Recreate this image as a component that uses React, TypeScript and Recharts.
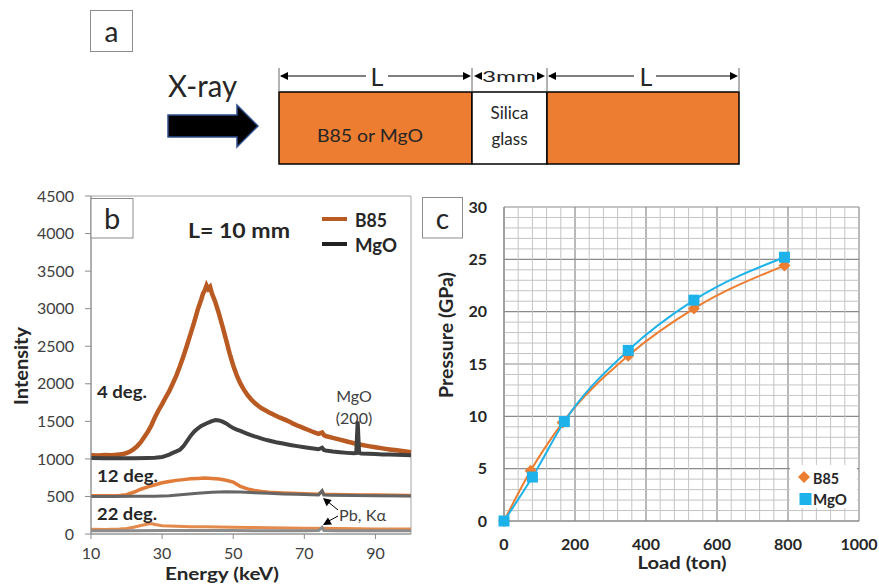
import React from "react";
import { LineChart, ComposedChart, Line, XAxis, YAxis, ReferenceArea, ReferenceLine, CartesianGrid } from "recharts";

const FONT = "Lato, 'Open Sans', sans-serif";
const INK = "#262626";
const TICK = "#404040";

// panel b: energy (keV) vs intensity
const b85Deg4 = [
  [10, 1050], [12, 1046], [14, 1052], [16, 1048], [18, 1058], [19, 1064], [20, 1078], [21, 1098], [22, 1128], [23, 1170],
  [24, 1222], [25, 1290], [26, 1362], [27, 1448], [28, 1556], [29, 1648], [30, 1730], [31, 1818], [32, 1902], [33, 2004],
  [34, 2108], [35, 2232], [36, 2368], [37, 2512], [38, 2664], [39, 2818], [40, 2984], [41, 3122], [41.5, 3200], [42, 3244],
  [42.5, 3310], [43, 3262], [43.5, 3290], [44, 3205], [45, 3082], [46, 2932], [47, 2762], [48, 2584], [49, 2402], [50, 2244],
  [51, 2112], [52, 2004], [53, 1922], [54, 1852], [55, 1794], [56, 1746], [57, 1708], [58, 1674], [59, 1648], [60, 1622],
  [61, 1598], [62, 1574], [63, 1552], [64, 1532], [65, 1512], [66, 1490], [67, 1466], [68, 1444], [69, 1426], [70, 1406],
  [71, 1388], [72, 1368], [73, 1350], [74, 1334], [75, 1352], [75.5, 1318], [76, 1304], [78, 1280], [80, 1256], [82, 1232],
  [84, 1208], [86, 1188], [88, 1170], [90, 1154], [92, 1140], [94, 1126], [96, 1114], [98, 1102], [100, 1090],
];
const mgoDeg4 = [
  [10, 1012], [14, 1008], [18, 1010], [22, 1008], [26, 1012], [28, 1016], [30, 1026], [31, 1040], [32, 1058], [33, 1080],
  [34, 1100], [35, 1122], [36, 1168], [37, 1236], [38, 1306], [39, 1362], [40, 1404], [41, 1438], [42, 1462], [43, 1484],
  [44, 1502], [45, 1518], [46, 1512], [47, 1496], [48, 1472], [49, 1440], [50, 1410], [51, 1390], [52, 1372], [53, 1352],
  [54, 1334], [55, 1316], [56, 1300], [57, 1286], [58, 1270], [59, 1256], [60, 1244], [62, 1222], [64, 1204], [66, 1186],
  [68, 1170], [70, 1156], [72, 1142], [74, 1128], [75, 1148], [75.5, 1118], [76, 1112], [78, 1098], [80, 1088], [82, 1080],
  [84, 1074], [84.6, 1078], [85, 1500], [85.4, 1082], [86, 1072], [88, 1068], [90, 1064], [92, 1060], [94, 1058], [96, 1055],
  [98, 1052], [100, 1050],
];
const b85Deg12 = [
  [10, 510], [14, 508], [18, 514], [20, 524], [22, 556], [24, 596], [26, 628], [28, 656], [30, 682], [32, 700],
  [34, 714], [36, 724], [38, 734], [40, 740], [42, 746], [44, 740], [46, 732], [48, 716], [50, 692], [51, 662],
  [52, 632], [54, 600], [56, 580], [58, 566], [60, 556], [64, 546], [68, 538], [72, 532], [74, 530], [75, 566],
  [75.5, 530], [78, 526], [82, 522], [86, 520], [90, 518], [95, 516], [100, 514],
];
const mgoDeg12 = [
  [10, 498], [16, 500], [22, 502], [28, 504], [32, 510], [36, 526], [40, 544], [44, 556], [48, 562], [52, 558],
  [56, 550], [60, 542], [64, 534], [68, 528], [72, 522], [74, 520], [75, 578], [75.5, 520], [78, 516], [84, 512],
  [90, 510], [100, 506],
];
const b85Deg22 = [
  [10, 62], [14, 60], [18, 66], [20, 72], [22, 90], [24, 114], [26, 132], [27, 138], [28, 126], [30, 110],
  [34, 102], [38, 98], [42, 96], [46, 94], [50, 90], [55, 86], [60, 82], [70, 76], [80, 72], [90, 68], [100, 66],
];
const mgoDeg22 = [
  [10, 42], [20, 44], [30, 46], [40, 48], [50, 46], [60, 44], [70, 44], [74, 46], [75, 88], [75.5, 46],
  [80, 44], [90, 42], [100, 42],
];
const energyTicks = [10, 30, 50, 70, 90];
const intensityTicks = [0, 500, 1000, 1500, 2000, 2500, 3000, 3500, 4000, 4500];

// panel c: load (ton) vs pressure (GPa)
const b85Load = [0, 75, 165, 350, 535, 790];
const b85Pressure = [0, 4.8, 9.4, 15.8, 20.3, 24.4];
const mgoLoad = [0, 80, 170, 350, 535, 790];
const mgoPressure = [0, 4.2, 9.5, 16.3, 21.1, 25.2];
const loadTicks = [0, 200, 400, 600, 800, 1000];
const pressureTicks = [0, 5, 10, 15, 20, 25, 30];
const loadMinor = [40, 80, 120, 160, 240, 280, 320, 360, 440, 480, 520, 560, 640, 680, 720, 760, 840, 880, 920, 960];
const pressureMinor = [1, 2, 3, 4, 6, 7, 8, 9, 11, 12, 13, 14, 16, 17, 18, 19, 21, 22, 23, 24, 26, 27, 28, 29];

const spec = (arr: number[][]) => arr.map(([e, v]) => ({ e, v }));
const pairs = (xs: number[], ys: number[]) => xs.map((x, i) => ({ x, y: ys[i] }));

const ORANGE = "#ed7d31";
const BLUE = "#1eb2ea";

const Diamond = (p: any) => {
  const { cx, cy, index } = p;
  const r = 6;
  return <path key={"d" + index} d={`M${cx},${cy - r}L${cx + r},${cy}L${cx},${cy + r}L${cx - r},${cy}Z`} fill={ORANGE} />;
};
const Square = (p: any) => {
  const { cx, cy, index } = p;
  return <rect key={"s" + index} x={cx - 5.5} y={cy - 5.5} width={11} height={11} fill={BLUE} />;
};

function Arrowhead({ x, y, angle }: { x: number; y: number; angle: number }) {
  return <polygon points="0,0 -8,-4 -8,4" fill="#000" transform={`translate(${x},${y}) rotate(${angle})`} />;
}

function PanelA() {
  const dim = 76;
  return (
    <g fontFamily={FONT}>
      <rect x={90.5} y={10.5} width={42} height={41} fill="#fff" stroke="#8c8c8c" />
      <text x={111.5} y={31} fontSize={28} textAnchor="middle" dominantBaseline="central" fill={INK}>a</text>
      <text x={168} y={97} fontSize={30} textLength={69} lengthAdjust="spacingAndGlyphs" fill={INK}>X-ray</text>
      <polygon points="168,115 237,115 237,105 258,126 237,147 237,137 168,137" fill="#000" stroke="#2f4f8f" strokeWidth={1.5} />
      <rect x={279} y={92} width={193} height={72} fill={ORANGE} stroke="#000" strokeWidth={1.5} />
      <rect x={472} y={92} width={75} height={72} fill="#fff" stroke="#000" strokeWidth={1.5} />
      <rect x={547} y={92} width={192} height={72} fill={ORANGE} stroke="#000" strokeWidth={1.5} />
      {[279, 472, 547, 739].map((x) => (
        <line key={x} x1={x} x2={x} y1={68} y2={92} stroke="#666" />
      ))}
      <line x1={281} x2={366} y1={dim} y2={dim} stroke="#000" />
      <line x1={388} x2={468} y1={dim} y2={dim} stroke="#000" />
      <Arrowhead x={280} y={dim} angle={180} />
      <Arrowhead x={471} y={dim} angle={0} />
      <text x={377} y={dim} fontSize={25} textAnchor="middle" dominantBaseline="central" fill={INK}>L</text>
      <Arrowhead x={474} y={dim} angle={180} />
      <Arrowhead x={545} y={dim} angle={0} />
      <text x={509} y={dim} fontSize={15} textAnchor="middle" dominantBaseline="central" fill={INK} textLength={54} lengthAdjust="spacingAndGlyphs">3mm</text>
      <line x1={549} x2={634} y1={dim} y2={dim} stroke="#000" />
      <line x1={656} x2={736} y1={dim} y2={dim} stroke="#000" />
      <Arrowhead x={548} y={dim} angle={180} />
      <Arrowhead x={738} y={dim} angle={0} />
      <text x={646} y={dim} fontSize={25} textAnchor="middle" dominantBaseline="central" fill={INK}>L</text>
      <text x={370} y={135} fontSize={18} textAnchor="middle" dominantBaseline="central" fill={INK} textLength={106} lengthAdjust="spacingAndGlyphs">B85 or MgO</text>
      <text x={509.5} y={112} fontSize={17} textAnchor="middle" dominantBaseline="central" fill={INK}>Silica</text>
      <text x={509.5} y={138} fontSize={17} textAnchor="middle" dominantBaseline="central" fill={INK}>glass</text>
    </g>
  );
}

function Overlay() {
  return (
    <svg width={879} height={585} style={{ position: "absolute", left: 0, top: 0, pointerEvents: "none" }}>
      <PanelA />
      <g fontFamily={FONT} fill={INK}>
        {/* panel b */}
        <rect x={91} y={198.5} width={42} height={39.5} fill="#fff" stroke="#8c8c8c" />
        <text x={112} y={217} fontSize={29} textAnchor="middle" dominantBaseline="central">b</text>
        <text x={239} y={230} fontSize={20} fontWeight="bold" textAnchor="middle" dominantBaseline="central" textLength={102} lengthAdjust="spacingAndGlyphs">L= 10 mm</text>
        <line x1={322} x2={347} y1={219} y2={219} stroke="#b85a22" strokeWidth={4} />
        <line x1={322} x2={347} y1={244} y2={244} stroke="#222" strokeWidth={4} />
        <text x={355} y={220} fontSize={18} fontWeight="bold" dominantBaseline="central" textLength={32} lengthAdjust="spacingAndGlyphs">B85</text>
        <text x={355} y={245} fontSize={18} fontWeight="bold" dominantBaseline="central" textLength={42} lengthAdjust="spacingAndGlyphs">MgO</text>
        <text x={97} y={391} fontSize={17} fontWeight="bold" dominantBaseline="central" textLength={50} lengthAdjust="spacingAndGlyphs">4 deg.</text>
        <text x={97} y={475} fontSize={17} fontWeight="bold" dominantBaseline="central" textLength={61} lengthAdjust="spacingAndGlyphs">12 deg.</text>
        <text x={97} y={513} fontSize={17} fontWeight="bold" dominantBaseline="central" textLength={60} lengthAdjust="spacingAndGlyphs">22 deg.</text>
        <text x={354} y={395} fontSize={16} textAnchor="middle" dominantBaseline="central" fill={TICK}>MgO</text>
        <text x={354} y={417} fontSize={16} textAnchor="middle" dominantBaseline="central" fill={TICK}>(200)</text>
        <text x={339} y={514} fontSize={16} dominantBaseline="central" fill={TICK} textLength={47} lengthAdjust="spacingAndGlyphs">Pb, Kα</text>
        <line x1={338} y1={510} x2={327} y2={501} stroke="#000" />
        <Arrowhead x={323} y={498} angle={-140} />
        <line x1={338} y1={516} x2={327} y2={522} stroke="#000" />
        <Arrowhead x={323} y={525} angle={150} />
        <text transform="translate(20,366) rotate(-90)" fontSize={19} fontWeight="bold" textAnchor="middle" dominantBaseline="central" textLength={78} lengthAdjust="spacingAndGlyphs">Intensity</text>
        <text x={222} y={580} fontSize={16.5} fontWeight="bold" textAnchor="middle" textLength={114} lengthAdjust="spacingAndGlyphs">Energy (keV)</text>
        {/* panel c */}
        <rect x={422.5} y={197.5} width={40} height={40.5} fill="#fff" stroke="#8c8c8c" />
        <text x={442.5} y={218} fontSize={28} textAnchor="middle" dominantBaseline="central">c</text>
        <text transform="translate(445.5,335) rotate(-90)" fontSize={18} fontWeight="bold" textAnchor="middle" dominantBaseline="central" textLength={126} lengthAdjust="spacingAndGlyphs">Pressure (GPa)</text>
        <text x={682} y={569} fontSize={16.5} fontWeight="bold" textAnchor="middle" textLength={89} lengthAdjust="spacingAndGlyphs">Load (ton)</text>
        <rect x={790} y={465} width={67} height={43} fill="#fff" />
        <path d="M804,471L810,477L804,483L798,477Z" fill={ORANGE} />
        <rect x={799.5} y={493} width={12} height={12} fill={BLUE} />
        <text x={813} y={478} fontSize={15} fontWeight="bold" dominantBaseline="central" textLength={26} lengthAdjust="spacingAndGlyphs">B85</text>
        <text x={813} y={499} fontSize={15} fontWeight="bold" dominantBaseline="central" textLength={34} lengthAdjust="spacingAndGlyphs">MgO</text>
      </g>
    </svg>
  );
}

export default function App() {
  const tickB = { fill: TICK, fontSize: 16, fontFamily: FONT };
  const tickC = { fill: INK, fontSize: 16, fontFamily: FONT, fontWeight: "bold" as const };
  return (
    <div style={{ position: "absolute", left: 0, top: 0, width: 879, height: 585, background: "#fff", overflow: "hidden" }}>
      <div style={{ position: "absolute", left: 0, top: 180 }}>
        <LineChart width={430} height={405} margin={{ top: 16, right: 19, bottom: 0, left: 0 }}>
          <XAxis dataKey="e" type="number" domain={[10, 100]} ticks={energyTicks} height={51} tickSize={5} tickMargin={9} stroke="#8c8c8c" tick={tickB} />
          <YAxis type="number" domain={[0, 4500]} ticks={intensityTicks} width={91} tickSize={6} tickMargin={11} stroke="#8c8c8c" tick={tickB} />
          <ReferenceArea x1={10} x2={100} y1={0} y2={4500} fill="none" stroke="#a6a6a6" />
          <Line data={spec(b85Deg4)} dataKey="v" stroke="#b85a22" strokeWidth={4.5} dot={false} isAnimationActive={false} />
          <Line data={spec(mgoDeg4)} dataKey="v" stroke="#404040" strokeWidth={4} dot={false} isAnimationActive={false} />
          <Line data={spec(b85Deg12)} dataKey="v" stroke="#e07b39" strokeWidth={3.5} dot={false} isAnimationActive={false} />
          <Line data={spec(mgoDeg12)} dataKey="v" stroke="#666666" strokeWidth={3} dot={false} isAnimationActive={false} />
          <Line data={spec(b85Deg22)} dataKey="v" stroke="#e48a4c" strokeWidth={3} dot={false} isAnimationActive={false} />
          <Line data={spec(mgoDeg22)} dataKey="v" stroke="#8c8c8c" strokeWidth={3} dot={false} isAnimationActive={false} />
        </LineChart>
      </div>
      <div style={{ position: "absolute", left: 430, top: 180 }}>
        <ComposedChart width={449} height={405} margin={{ top: 27, right: 20, bottom: 14, left: 0 }}>
          <CartesianGrid stroke="#8a8a8a" strokeWidth={1.2} />
          {loadMinor.map((v) => (
            <ReferenceLine key={"mx" + v} x={v} stroke="#c4c4c4" />
          ))}
          {pressureMinor.map((v) => (
            <ReferenceLine key={"my" + v} y={v} stroke="#c4c4c4" />
          ))}
          <XAxis dataKey="x" type="number" domain={[0, 1000]} ticks={loadTicks} height={50} tickLine={false} tickSize={0} tickMargin={18} stroke="#8a8a8a" tick={tickC} />
          <YAxis type="number" domain={[0, 30]} ticks={pressureTicks} width={74} tickLine={false} tickSize={0} tickMargin={17} stroke="#8a8a8a" tick={tickC} />
          <Line data={pairs(b85Load, b85Pressure)} dataKey="y" type="monotone" stroke={ORANGE} strokeWidth={2} dot={Diamond} isAnimationActive={false} />
          <Line data={pairs(mgoLoad, mgoPressure)} dataKey="y" type="monotone" stroke={BLUE} strokeWidth={2} dot={Square} isAnimationActive={false} />
        </ComposedChart>
      </div>
      <Overlay />
    </div>
  );
}
